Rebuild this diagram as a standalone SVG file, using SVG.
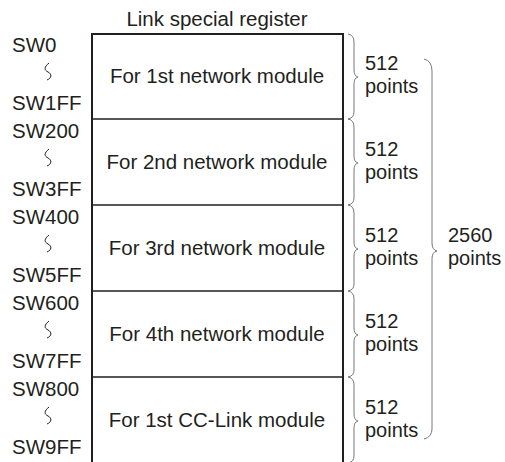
<svg xmlns="http://www.w3.org/2000/svg" width="505" height="462" viewBox="0 0 505 462">
<style>
text{font-family:"Liberation Sans",Arial,sans-serif;font-size:20.5px;fill:#231f20}
.c{text-anchor:middle}
.p{font-size:20px}
.box{fill:none;stroke:#231f20;stroke-width:2}
.div{stroke:#231f20;stroke-width:1.3}
.br{fill:none;stroke:#77787b;stroke-width:1}
.sq{fill:none;stroke:#231f20;stroke-width:1}
</style>
<rect width="505" height="462" fill="#fff"/>
<text class="c" x="217" y="26">Link special register</text>
<g id="register">
<path class="box" d="M92,462 V34 H343 V462"/>
</g>
<g id="row1">
<text x="12" y="52">SW0</text>
<path class="sq" d="M49,63 C44,67 44,70 48,72 C52,74 52,78 47,80"/>
<text x="12" y="110">SW1FF</text>
<text class="c" x="217" y="83">For 1st network module</text>
<text class="p" x="365" y="70">512</text>
<text class="p" x="365" y="92.6">points</text>
</g>
<g id="row2">
<text x="12" y="138">SW200</text>
<path class="sq" d="M49,149 C44,153 44,156 48,158 C52,160 52,164 47,166"/>
<text x="12" y="196">SW3FF</text>
<text class="c" x="217" y="169">For 2nd network module</text>
<text class="p" x="365" y="156">512</text>
<text class="p" x="365" y="178.6">points</text>
</g>
<g id="row3">
<text x="12" y="224">SW400</text>
<path class="sq" d="M49,235 C44,239 44,242 48,244 C52,246 52,250 47,252"/>
<text x="12" y="282">SW5FF</text>
<text class="c" x="217" y="255">For 3rd network module</text>
<text class="p" x="365" y="242">512</text>
<text class="p" x="365" y="264.6">points</text>
</g>
<g id="row4">
<text x="12" y="310">SW600</text>
<path class="sq" d="M49,321 C44,325 44,328 48,330 C52,332 52,336 47,338"/>
<text x="12" y="368">SW7FF</text>
<text class="c" x="217" y="341">For 4th network module</text>
<text class="p" x="365" y="328">512</text>
<text class="p" x="365" y="350.6">points</text>
</g>
<g id="row5">
<text x="12" y="396">SW800</text>
<path class="sq" d="M49,407 C44,411 44,414 48,416 C52,418 52,422 47,424"/>
<text x="12" y="454">SW9FF</text>
<text class="c" x="217" y="427">For 1st CC-Link module</text>
<text class="p" x="365" y="414">512</text>
<text class="p" x="365" y="436.6">points</text>
</g>
<g id="total">
<text class="p" x="448" y="242">2560</text>
<text class="p" x="448" y="264.6">points</text>
</g>
<g id="connectors">
<path class="div" d="M92,119 H343 M92,205 H343 M92,291 H343 M92,377 H343"/>
<path class="br" d="M348,34 Q354,35 354,42 V70 Q354,76 358,77 Q354,78 354,84 V112 Q354,118 348,119"/>
<path class="br" d="M348,119 Q354,120 354,127 V156 Q354,162 358,163 Q354,164 354,170 V198 Q354,204 348,205"/>
<path class="br" d="M348,205 Q354,206 354,213 V242 Q354,248 358,249 Q354,250 354,256 V284 Q354,290 348,291"/>
<path class="br" d="M348,291 Q354,292 354,299 V328 Q354,334 358,335 Q354,336 354,342 V370 Q354,376 348,377"/>
<path class="br" d="M348,377 Q354,378 354,385 V414 Q354,420 358,421 Q354,422 354,428 V456 Q354,462 348,463"/>
<path class="br" d="M424,59 Q432,61 432,71 V243 Q432,250 437,251 Q432,252 432,259 V429 Q432,437 424,439"/>
</g>
</svg>
